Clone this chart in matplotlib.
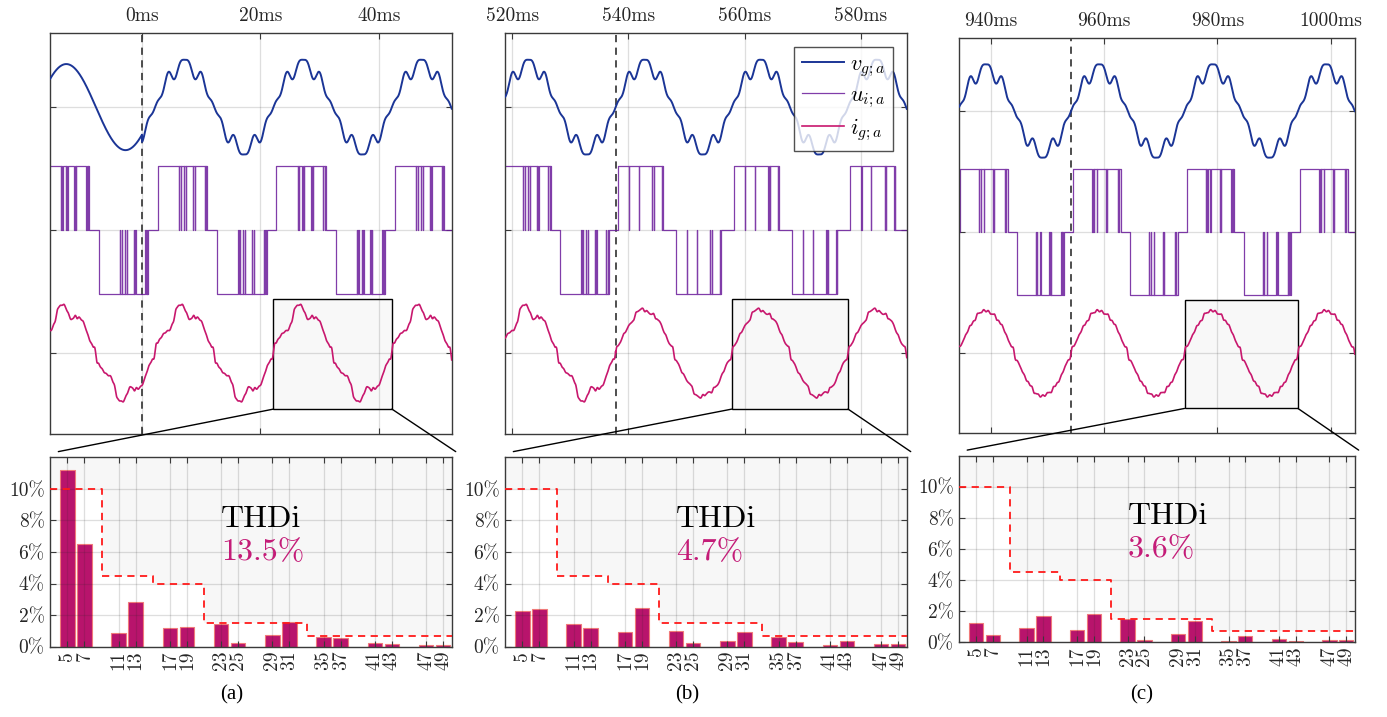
import numpy as np
import matplotlib
matplotlib.use('Agg')
import matplotlib.pyplot as plt
from matplotlib.patches import Rectangle, ConnectionPatch

W, H, DPI = 1387, 717, 100
plt.rcParams['mathtext.fontset'] = 'cm'
plt.rcParams['font.family'] = 'cmr10'
plt.rcParams['axes.unicode_minus'] = False

# ------------------------------------------------------------------ data
harmonic_orders = [5, 7, 11, 13, 17, 19, 23, 25, 29, 31, 35, 37, 41, 43, 47, 49]
harmonics_a = [11.17, 6.50, 0.85, 2.84, 1.21, 1.23, 1.44, 0.21, 0.76, 1.55, 0.61, 0.57, 0.23, 0.19, 0.10, 0.08]
harmonics_b = [2.27, 2.39, 1.44, 1.19, 0.91, 2.44, 1.00, 0.21, 0.38, 0.91, 0.59, 0.28, 0.13, 0.34, 0.17, 0.17]
harmonics_c = [1.20, 0.47, 0.92, 1.66, 0.75, 1.78, 1.50, 0.15, 0.49, 1.38, 0.09, 0.39, 0.17, 0.06, 0.13, 0.13]
harmonic_phase_deg = [75, -75, 0, 0, 0, 0, 0, 0, 0, 0, 0, 0, 0, 0, 0, 0]
thd_labels = ['13.5%', '4.7%', '3.6%']
panel_labels = ['(a)', '(b)', '(c)']

limit_edges = [3, 9, 15, 21, 33, 50]
limit_values = [10, 4.5, 4, 1.5, 0.7]
pct_ticks = [0, 2, 4, 6, 8, 10]
pct_labels = ['0%', '2%', '4%', '6%', '8%', '10%']

time_ticks = [[0, 20, 40], [520, 540, 560, 580], [940, 960, 980, 1000]]
time_tick_labels = [['0ms', '20ms', '40ms'],
                    ['520ms', '540ms', '560ms', '580ms'],
                    ['940ms', '960ms', '980ms', '1000ms']]
time_limits = [(-15.5, 52.3), (518.8, 587.9), (934.5, 1004.2)]
event_times = [0.0, 537.8, 954.2]          # dashed marker
zero_cross_times = [2.2, 537.8, 954.2]     # upward zero crossing of grid phase a
box_starts = [22.2, 557.8, 974.2]
period_ms = 20.0

# grid voltage (per-unit of trace spacing) and its distortion
grid_fund = 0.35
grid_harm_orders = [5, 7, 11]
grid_harm_coeffs = [0.05, -0.12, 0.07]
current_fund = 0.35
pwm_level = 0.52

# inverter switching instants inside one half period (ms after zero crossing)
pwm_on = [0.5, 0.4, 0.4]
pwm_notches = [[4.1, 4.35, 4.9, 5.2, 6.4, 6.7, 8.4, 8.65],
               [2.3, 4.0, 6.3, 6.6, 8.0],
               [3.8, 4.06, 4.6, 6.2, 6.4, 8.3, 8.5]]
pwm_off = [8.85, 8.15, 8.8]
notch_width = 0.04

trace_offsets = [1.0, 0.0, -1.0]
zoom_box_levels = [-1.455, -0.56]

# ------------------------------------------------------------------ style
c_v = '#1b3596'
c_u = '#6a1b9a'
c_i = '#c8186e'
c_bar = '#b8146c'
c_bar_edge = '#f07a7a'
c_txt = '#262626'

top_rects = [(50.3, 33.3, 401.4, 401.0), (505.3, 33.3, 401.4, 401.0), (959.3, 38.3, 395.4, 395.0)]
bot_rects = [(50.3, 457.3, 401.4, 189.4), (505.3, 457.3, 401.4, 189.4), (959.3, 455.7, 395.4, 186.3)]
label_pos = [(232, 695), (687, 695), (1142, 695)]


def frac(r):
    x, y, w, h = r
    return [x / W, 1 - (y + h) / H, w / W, h / H]


def pwm_events(t0, on, notches, off, k_lo, k_hi):
    times, levels = [], []
    for k in range(k_lo, k_hi):
        base = t0 + 10.0 * k
        s = 1.0 if k % 2 == 0 else -1.0
        times.append(base + on); levels.append(s)
        for c in notches:
            times += [base + c - notch_width / 2, base + c + notch_width / 2]
            levels += [0.0, s]
        times.append(base + off); levels.append(0.0)
    return np.array(times), np.array(levels)


def current_wave(t, t0, spectrum):
    th = 2 * np.pi * (t - t0) / period_ms
    y = np.sin(th)
    for n, h, ph in zip(harmonic_orders, spectrum, harmonic_phase_deg):
        y = y + h / 100.0 * np.sin(n * th + np.radians(ph))
    return current_fund * y


def voltage_wave(t, t0, distorted):
    th = 2 * np.pi * (t - t0) / period_ms
    y = np.sin(th)
    for n, c in zip(grid_harm_orders, grid_harm_coeffs):
        y = y + distorted * c * np.sin(n * th)
    return grid_fund * y


def style_axes(ax):
    for sp in ax.spines.values():
        sp.set_color('#3a3a3a')
        sp.set_linewidth(1.0)
    ax.tick_params(direction='in', length=4, width=0.8, color='#3a3a3a',
                   labelcolor=c_txt, labelsize=14, top=True, right=True)


fig = plt.figure(figsize=(W / DPI, H / DPI), dpi=DPI)
spectra = [harmonics_a, harmonics_b, harmonics_c]

for p in range(3):
    ax = fig.add_axes(frac(top_rects[p]))
    style_axes(ax)
    tmin, tmax = time_limits[p]
    t = np.arange(tmin - 1, tmax + 1, 0.01)
    t0 = zero_cross_times[p]
    ev = event_times[p]

    # grid voltage
    if p == 0:
        distorted = (t >= ev).astype(float)
    else:
        distorted = np.ones_like(t)
    v = voltage_wave(t, t0, distorted)

    # inverter voltage
    k_lo = int(np.floor((tmin - t0) / 10.0)) - 2
    k_hi = int(np.ceil((tmax - t0) / 10.0)) + 2
    if p == 1:
        ta, la = pwm_events(t0, pwm_on[0], pwm_notches[0], pwm_off[0], k_lo, k_hi)
        tb, lb = pwm_events(t0, pwm_on[1], pwm_notches[1], pwm_off[1], k_lo, k_hi)
        pt = np.concatenate([ta[ta < ev], tb[tb >= ev]])
        pl = np.concatenate([la[ta < ev], lb[tb >= ev]])
        i = np.where(t < ev, current_wave(t, t0, harmonics_a), current_wave(t, t0, harmonics_b))
    else:
        pt, pl = pwm_events(t0, pwm_on[p], pwm_notches[p], pwm_off[p], k_lo, k_hi)
        i = current_wave(t, t0, spectra[p])
    order = np.argsort(pt, kind='stable')
    pt, pl = pt[order], pl[order]

    lv, = ax.plot(t, trace_offsets[0] + v, color=c_v, lw=1.4, zorder=3, label=r'$v_{g;a}$')
    lu, = ax.plot(pt, trace_offsets[1] + pwm_level * pl, color=c_u, lw=0.9, alpha=0.85,
                  drawstyle='steps-post', zorder=2.5, label=r'$u_{i;a}$')
    li, = ax.plot(t, trace_offsets[2] + i, color=c_i, lw=1.2, zorder=3, label=r'$i_{g;a}$')

    ax.axvline(ev, color='#404040', lw=1.3, ls=(0, (4, 3)), zorder=2)
    rect = Rectangle((box_starts[p], zoom_box_levels[0]), period_ms,
                     zoom_box_levels[1] - zoom_box_levels[0],
                     facecolor='#f8f8f8', edgecolor='black', lw=1.0, zorder=0.3)
    ax.add_patch(rect)

    ax.set_xlim(tmin, tmax)
    ax.set_ylim(-1.66, 1.60)
    ax.set_xticks(time_ticks[p])
    ax.set_xticklabels(time_tick_labels[p])
    ax.set_yticks(trace_offsets)
    ax.set_yticklabels([])
    ax.xaxis.tick_top()
    ax.tick_params(axis='x', bottom=True, top=True, labelbottom=False, labeltop=True, pad=6)
    ax.set_axisbelow(True)
    ax.grid(True, color='#262626', alpha=0.15, lw=0.9)

    if p == 1:
        leg = ax.legend(handles=[lv, lu, li], loc='upper right', bbox_to_anchor=(0.9666, 0.9666),
                        borderaxespad=0, fontsize=16, frameon=True, fancybox=False,
                        edgecolor='#262626', handlelength=1.9, handletextpad=0.3,
                        labelspacing=0.3, borderpad=0.35)
        leg.get_frame().set_linewidth(1.0)

    # ---------------- harmonic spectrum
    bx = fig.add_axes(frac(bot_rects[p]))
    style_axes(bx)
    bx.set_xlim(limit_edges[0], limit_edges[-1])
    bx.set_ylim(0, 12)
    lim_x = np.array(limit_edges)
    lim_y = np.array(limit_values + [limit_values[-1]])
    bx.fill_between(lim_x, lim_y, 12, step='post', color='#f7f7f7', lw=0, zorder=0.2)
    bx.bar(harmonic_orders, spectra[p], width=1.7, color=c_bar, edgecolor=c_bar_edge,
           linewidth=0.8, zorder=1)
    bx.step(lim_x, lim_y, where='post', color='#ff1a1a', lw=1.3, ls=(0, (4, 3)), zorder=3)
    bx.set_xticks(harmonic_orders)
    bx.set_xticklabels([str(h) for h in harmonic_orders], rotation=90)
    bx.set_yticks(pct_ticks)
    bx.set_yticklabels(pct_labels)
    bx.tick_params(axis='x', pad=3)
    bx.tick_params(axis='y', pad=4)
    bx.set_axisbelow(False)
    bx.grid(True, color='#262626', alpha=0.15, lw=0.9)
    bx.text(23.0, 7.58, 'THDi', fontsize=23, color='black', va='baseline', ha='left', zorder=4)
    bx.text(23.0, 5.46, thd_labels[p], fontsize=23, color='#c41c78', va='baseline', ha='left', zorder=4)

    # zoom connectors
    y_bot = zoom_box_levels[0]
    for xa, xb in [(box_starts[p], 0.02), (box_starts[p] + period_ms, 1.01)]:
        con = ConnectionPatch(xyA=(xa, y_bot), coordsA=ax.transData,
                              xyB=(xb, 1.03), coordsB=bx.transAxes,
                              color='black', lw=1.0)
        fig.add_artist(con)

    lx, ly = label_pos[p]
    fig.text(lx / W, 1 - ly / H, panel_labels[p], ha='center', va='center',
             fontsize=15, family='Liberation Serif', color='black')

fig.savefig('out.png', dpi=DPI)
